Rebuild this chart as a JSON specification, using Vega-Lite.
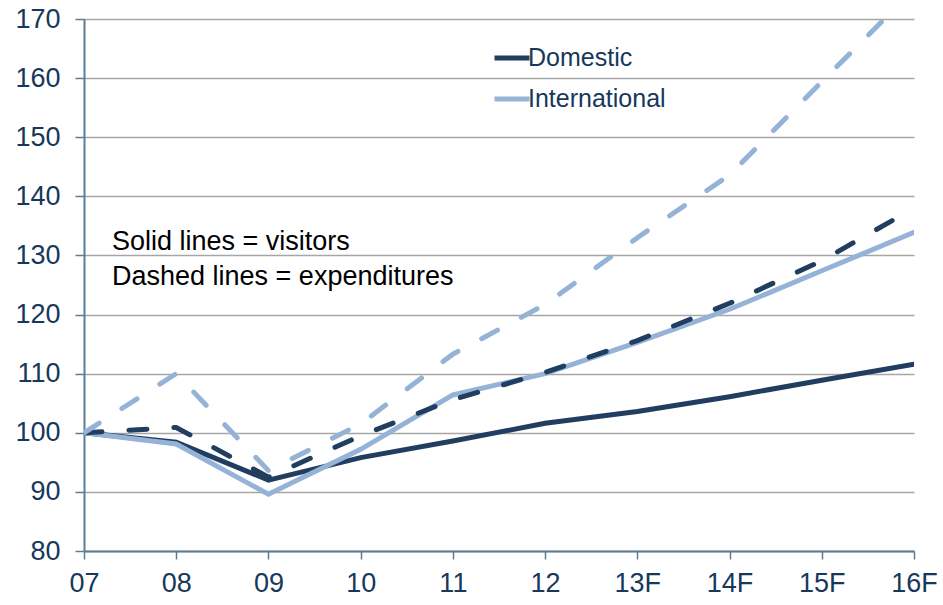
{
  "$schema": "https://vega.github.io/schema/vega-lite/v6.json",
  "width": 830,
  "height": 532,
  "autosize": {"type": "none"},
  "padding": {"left": 84, "top": 19, "right": 29, "bottom": 54},
  "background": "white",
  "config": {
    "view": {"stroke": null},
    "font": "Liberation Sans"
  },
  "datasets": {
    "series": [
      {"cat": "07", "group": "Domestic", "measure": "visitors", "value": 100},
      {"cat": "08", "group": "Domestic", "measure": "visitors", "value": 98.4},
      {"cat": "09", "group": "Domestic", "measure": "visitors", "value": 92.0},
      {"cat": "10", "group": "Domestic", "measure": "visitors", "value": 95.8},
      {"cat": "11", "group": "Domestic", "measure": "visitors", "value": 98.6},
      {"cat": "12", "group": "Domestic", "measure": "visitors", "value": 101.6},
      {"cat": "13F", "group": "Domestic", "measure": "visitors", "value": 103.6},
      {"cat": "14F", "group": "Domestic", "measure": "visitors", "value": 106.1},
      {"cat": "15F", "group": "Domestic", "measure": "visitors", "value": 108.9},
      {"cat": "16F", "group": "Domestic", "measure": "visitors", "value": 111.6},
      {"cat": "07", "group": "International", "measure": "visitors", "value": 100},
      {"cat": "08", "group": "International", "measure": "visitors", "value": 98.1},
      {"cat": "09", "group": "International", "measure": "visitors", "value": 89.6},
      {"cat": "10", "group": "International", "measure": "visitors", "value": 97.2},
      {"cat": "11", "group": "International", "measure": "visitors", "value": 106.4},
      {"cat": "12", "group": "International", "measure": "visitors", "value": 110.0},
      {"cat": "13F", "group": "International", "measure": "visitors", "value": 115.3},
      {"cat": "14F", "group": "International", "measure": "visitors", "value": 120.9},
      {"cat": "15F", "group": "International", "measure": "visitors", "value": 127.4},
      {"cat": "16F", "group": "International", "measure": "visitors", "value": 133.9},
      {"cat": "07", "group": "Domestic", "measure": "expenditures", "value": 100},
      {"cat": "08", "group": "Domestic", "measure": "expenditures", "value": 100.9},
      {"cat": "09", "group": "Domestic", "measure": "expenditures", "value": 92.5},
      {"cat": "10", "group": "Domestic", "measure": "expenditures", "value": 99.5},
      {"cat": "11", "group": "Domestic", "measure": "expenditures", "value": 105.6},
      {"cat": "12", "group": "Domestic", "measure": "expenditures", "value": 110.2},
      {"cat": "13F", "group": "Domestic", "measure": "expenditures", "value": 115.6},
      {"cat": "14F", "group": "Domestic", "measure": "expenditures", "value": 121.9},
      {"cat": "15F", "group": "Domestic", "measure": "expenditures", "value": 129.1},
      {"cat": "16F", "group": "Domestic", "measure": "expenditures", "value": 138.0},
      {"cat": "07", "group": "International", "measure": "expenditures", "value": 100},
      {"cat": "08", "group": "International", "measure": "expenditures", "value": 110.0},
      {"cat": "09", "group": "International", "measure": "expenditures", "value": 93.6},
      {"cat": "10", "group": "International", "measure": "expenditures", "value": 101.5},
      {"cat": "11", "group": "International", "measure": "expenditures", "value": 113.3},
      {"cat": "12", "group": "International", "measure": "expenditures", "value": 121.7},
      {"cat": "13F", "group": "International", "measure": "expenditures", "value": 133.0},
      {"cat": "14F", "group": "International", "measure": "expenditures", "value": 143.6},
      {"cat": "15F", "group": "International", "measure": "expenditures", "value": 159.4},
      {"cat": "16F", "group": "International", "measure": "expenditures", "value": 175.0}
    ],
    "notes": [
      {"cat": "07", "value": 130.9, "text": "Solid lines = visitors"},
      {"cat": "07", "value": 125.0, "text": "Dashed lines = expenditures"}
    ]
  },
  "encoding": {
    "x": {
      "field": "cat",
      "type": "ordinal",
      "sort": null,
      "scale": {"type": "point", "padding": 0, "domain": ["07", "08", "09", "10", "11", "12", "13F", "14F", "15F", "16F"]},
      "axis": {
        "title": null,
        "labelAngle": 0,
        "labelFontSize": 27,
        "labelColor": "#17385a",
        "labelPadding": 11,
        "tickSize": 8,
        "tickWidth": 1.5,
        "tickColor": "#5a7d96",
        "domainColor": "#5a7d96",
        "domainWidth": 2,
        "grid": false
      }
    },
    "y": {
      "field": "value",
      "type": "quantitative",
      "scale": {"domain": [80, 170], "nice": false, "zero": false},
      "axis": {
        "title": null,
        "values": [80, 90, 100, 110, 120, 130, 140, 150, 160, 170],
        "labelFontSize": 27,
        "labelColor": "#17385a",
        "labelPadding": 15,
        "tickSize": 9,
        "tickWidth": 1.5,
        "tickColor": "#5a7d96",
        "domainColor": "#5a7d96",
        "domainWidth": 2,
        "grid": true,
        "gridColor": "#a6a6a6",
        "gridWidth": 1.5
      }
    }
  },
  "layer": [
    {
      "data": {"name": "series"},
      "transform": [{"filter": "datum.measure === 'visitors'"}],
      "mark": {"type": "line", "strokeWidth": 5, "clip": true, "strokeCap": "round", "strokeJoin": "miter"},
      "encoding": {
        "color": {
          "field": "group",
          "type": "nominal",
          "scale": {"domain": ["Domestic", "International"], "range": ["#213e60", "#95b3d7"]},
          "legend": {
            "title": null,
            "orient": "none",
            "legendX": 408,
            "legendY": 19,
            "padding": 0,
            "symbolType": "stroke",
            "symbolSize": 1225,
            "symbolStrokeWidth": 5,
            "labelFontSize": 25,
            "labelColor": "#17385a",
            "labelOffset": -4,
            "rowPadding": 8
          }
        }
      }
    },
    {
      "data": {"name": "series"},
      "transform": [{"filter": "datum.measure === 'expenditures'"}],
      "mark": {"type": "line", "strokeWidth": 5, "clip": true, "strokeCap": "round", "strokeDash": [18, 27]},
      "encoding": {
        "color": {"field": "group", "type": "nominal", "legend": null}
      }
    },
    {
      "data": {"name": "notes"},
      "mark": {"type": "text", "align": "left", "baseline": "alphabetic", "dx": 28, "fontSize": 27, "color": "#000000"},
      "encoding": {
        "text": {"field": "text"}
      }
    }
  ]
}
